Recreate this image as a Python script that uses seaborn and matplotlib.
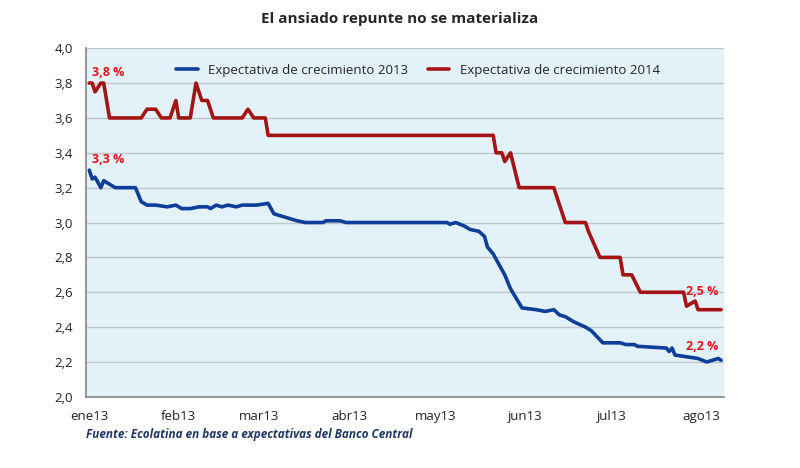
import pandas as pd
import matplotlib.pyplot as plt
from matplotlib.ticker import FuncFormatter
import seaborn as sns

# Days since 1 Jan 2013 and expected growth (%)
days_2013 = [0, 1, 2, 4, 5, 8, 9, 16, 18, 20, 23, 27, 30, 32, 35, 38, 41, 42, 44, 46, 48, 51, 53, 58,
             62, 64, 68, 72, 75, 81, 82, 87, 89, 124, 125, 127, 130, 132, 135, 137, 138, 140, 143,
             144, 146, 150, 155, 158, 161, 163, 165, 168, 172, 174, 178, 184, 186, 189, 190, 200,
             201, 202, 203, 207, 211, 214, 216, 218, 219]
exp_2013 = [3.3, 3.25, 3.26, 3.2, 3.24, 3.21, 3.2, 3.2, 3.12, 3.1, 3.1, 3.09, 3.1, 3.08, 3.08, 3.09,
            3.09, 3.08, 3.1, 3.09, 3.1, 3.09, 3.1, 3.1, 3.11, 3.05, 3.03, 3.01, 3.0, 3.0, 3.01, 3.01,
            3.0, 3.0, 2.99, 3.0, 2.98, 2.96, 2.95, 2.92, 2.86, 2.82, 2.73, 2.7, 2.62, 2.51, 2.5,
            2.49, 2.5, 2.47, 2.46, 2.43, 2.4, 2.38, 2.31, 2.31, 2.3, 2.3, 2.29, 2.28, 2.26, 2.28,
            2.24, 2.23, 2.22, 2.2, 2.21, 2.22, 2.21]
days_2014 = [0, 1, 2, 4, 5, 7, 18, 20, 23, 25, 28, 30, 31, 35, 37, 39, 41, 43, 53, 55, 57, 61, 62,
             140, 141, 143, 144, 146, 149, 161, 165, 172, 173, 177, 184, 185, 188, 191, 206, 207,
             210, 211, 219]
exp_2014 = [3.8, 3.8, 3.75, 3.8, 3.8, 3.6, 3.6, 3.65, 3.65, 3.6, 3.6, 3.7, 3.6, 3.6, 3.8, 3.7, 3.7,
            3.6, 3.6, 3.65, 3.6, 3.6, 3.5, 3.5, 3.4, 3.4, 3.35, 3.4, 3.2, 3.2, 3.0, 3.0, 2.95, 2.8,
            2.8, 2.7, 2.7, 2.6, 2.6, 2.52, 2.55, 2.5, 2.5]
month_labels = ["ene13", "feb13", "mar13", "abr13", "may13", "jun13", "jul13", "ago13"]

start = pd.Timestamp("2013-01-01")
d13 = pd.DataFrame({"fecha": start + pd.to_timedelta(days_2013, unit="D"), "valor": exp_2013})
d14 = pd.DataFrame({"fecha": start + pd.to_timedelta(days_2014, unit="D"), "valor": exp_2014})

sns.set_theme(style="white")
plt.rcParams["font.family"] = ["Open Sans", "DejaVu Sans"]

fig, ax = plt.subplots(figsize=(8, 4.68), dpi=100)
fig.subplots_adjust(left=0.108, right=0.905, top=0.897, bottom=0.152)
ax.set_facecolor("#E3F1F8")

sns.lineplot(data=d13, x="fecha", y="valor", ax=ax, color="#0D3E9A", lw=2.6,
             label="Expectativa de crecimiento 2013")
sns.lineplot(data=d14, x="fecha", y="valor", ax=ax, color="#A31414", lw=2.6,
             label="Expectativa de crecimiento 2014")

ax.set_ylim(2.0, 4.0)
ax.set_yticks([2.0 + 0.2 * i for i in range(11)])
ax.yaxis.set_major_formatter(FuncFormatter(lambda v, p: f"{v:.1f}".replace(".", ",")))
ax.set_xlim(start - pd.Timedelta(days=1), start + pd.Timedelta(days=220))
ticks = pd.date_range("2013-01-01", periods=8, freq="MS")
ax.set_xticks(ticks)
ax.set_xticklabels(month_labels)
ax.grid(axis="y", color="#BFC6CC", lw=1)
ax.tick_params(labelsize=9.5, colors="#222222")
ax.set_xlabel("")
ax.set_ylabel("")
for s in ["top", "right"]:
    ax.spines[s].set_visible(False)
for s in ["left", "bottom"]:
    ax.spines[s].set_color("#888888")

ax.legend(loc="upper center", ncol=2, frameon=False, fontsize=9.5, bbox_to_anchor=(0.52, 0.99),
          handlelength=1.6, columnspacing=1.5)

red = "#E0161B"
ax.text(d14.fecha.iloc[0] + pd.Timedelta(days=1), 3.84, "3,8 %", color=red, fontsize=9, weight="bold")
ax.text(d13.fecha.iloc[0] + pd.Timedelta(days=1), 3.34, "3,3 %", color=red, fontsize=9, weight="bold")
ax.text(d14.fecha.iloc[-1] - pd.Timedelta(days=1), 2.585, "2,5 %", color=red, fontsize=9, weight="bold", ha="right")
ax.text(d13.fecha.iloc[-1] - pd.Timedelta(days=1), 2.27, "2,2 %", color=red, fontsize=9, weight="bold", ha="right")

fig.suptitle("El ansiado repunte no se materializa", x=0.5, y=0.975, fontsize=11, weight="bold")
fig.text(0.108, 0.065, "Fuente: Ecolatina en base a expectativas del Banco Central",
         fontsize=8.5, style="italic", weight="bold", color="#1F3864")

fig.savefig("out.png", dpi=100)
